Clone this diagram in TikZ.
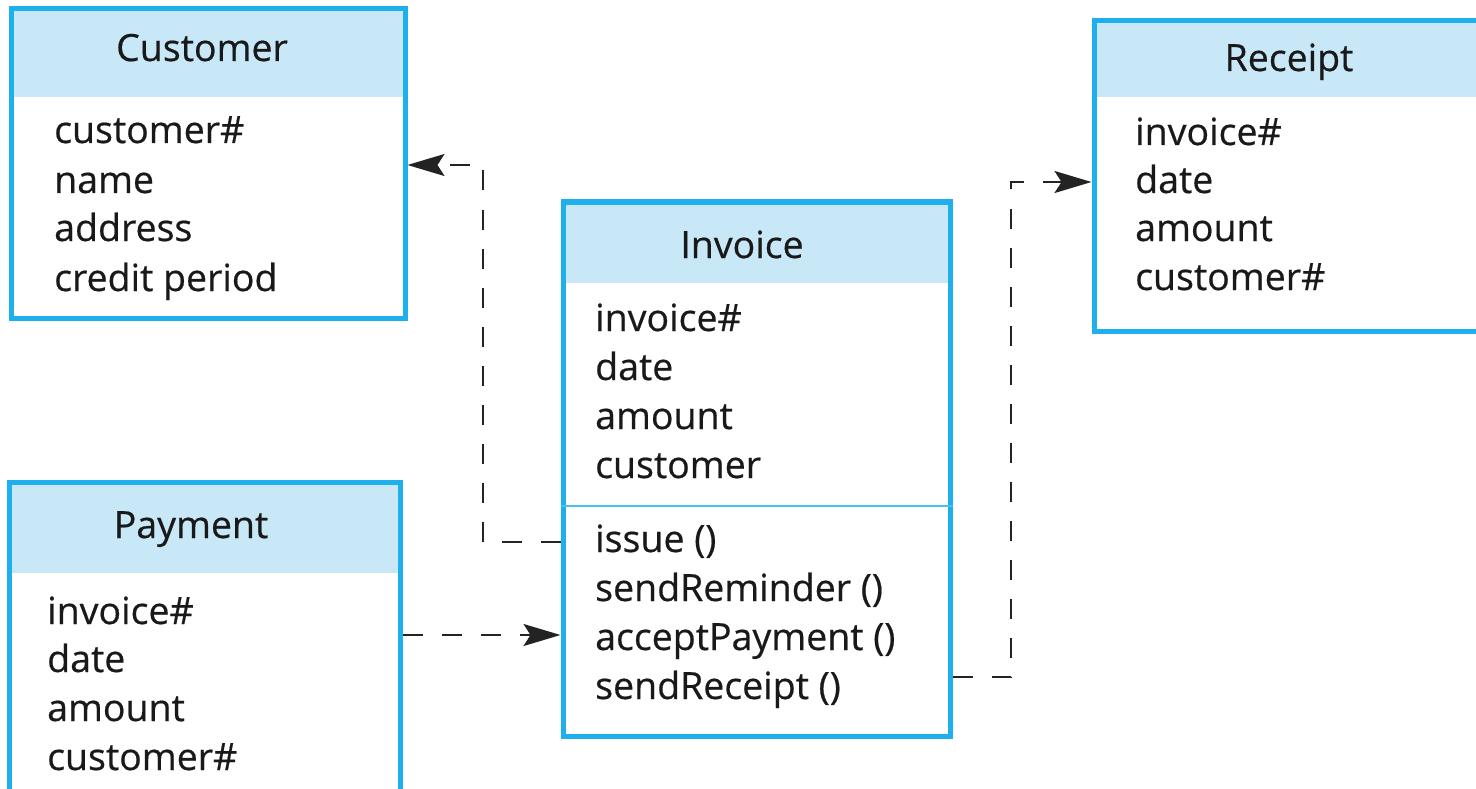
\documentclass[tikz,border=0pt]{standalone}
\usepackage{fontspec}
\setmainfont{Open Sans}[FakeBold=0.5]
\usetikzlibrary{arrows.meta,backgrounds}
\definecolor{umlblue}{RGB}{30,176,236}
\definecolor{headfill}{RGB}{200,232,248}
\definecolor{inktext}{RGB}{25,25,25}
\definecolor{linkink}{RGB}{35,35,35}
\begin{document}
\begin{tikzpicture}[x=1pt,y=-1pt,
  classbox/.style={draw=umlblue, line width=5pt, rectangle, inner sep=0pt},
  titletext/.style={anchor=base, inner sep=0pt, text=inktext, font=\fontsize{37.5}{44}\selectfont},
  attrtext/.style={anchor=base west, inner sep=0pt, text=inktext, font=\fontsize{37.5}{44}\selectfont},
  dep/.style={draw=linkink, line width=2pt, dash pattern=on 20pt off 19pt,
              -{Stealth[length=37pt, width=22pt, inset=7pt]}},
  sepline/.style={draw=umlblue!80, line width=2pt}]
\useasboundingbox (0,0) rectangle (1476,789);
\clip (0,0) rectangle (1476,789);

% boxes
\node[classbox, minimum width=394pt, minimum height=309pt] (customer) at (208,163.5) {};
\node[classbox, minimum width=396pt, minimum height=310pt] (receipt) at (1292,176) {};
\node[classbox, minimum width=387pt, minimum height=534pt] (invoice) at (756.5,469) {};
\node[classbox, minimum width=391pt, minimum height=348pt] (payment) at (204.5,656) {};

\begin{pgfonlayer}{background}
  \fill[headfill] (customer.north west) rectangle (customer.east |- 0,97);
  \fill[headfill] (receipt.north west) rectangle (receipt.east |- 0,97);
  \fill[headfill] (invoice.north west) rectangle (invoice.east |- 0,283);
  \fill[headfill] (payment.north west) rectangle (payment.east |- 0,573);
\end{pgfonlayer}

\draw[sepline] (invoice.west |- 0,506) -- (invoice.east |- 0,506);

% Customer
\node[titletext] (custT) at (202,61) {Customer};
\node[attrtext] (custA1) at (54,143) {customer\#};
\node[attrtext] (custA2) at (54,193) {name};
\node[attrtext] (custA3) at (54,241) {address};
\node[attrtext] (custA4) at (54,291) {credit period};

% Receipt
\node[titletext] (recT) at (1289,71) {Receipt};
\node[attrtext] (recA1) at (1135,145) {invoice\#};
\node[attrtext] (recA2) at (1135,193) {date};
\node[attrtext] (recA3) at (1135,241) {amount};
\node[attrtext] (recA4) at (1135,290) {customer\#};

% Invoice
\node[titletext] (invT) at (742,258) {Invoice};
\node[attrtext] (invA1) at (595,331) {invoice\#};
\node[attrtext] (invA2) at (595,380) {date};
\node[attrtext] (invA3) at (595,429) {amount};
\node[attrtext] (invA4) at (595,478) {customer};
\node[attrtext] (invM1) at (595,552) {issue ()};
\node[attrtext] (invM2) at (595,601) {sendReminder ()};
\node[attrtext] (invM3) at (595,650) {acceptPayment ()};
\node[attrtext] (invM4) at (595,699) {sendReceipt ()};

% Payment
\node[titletext] (payT) at (191,538) {Payment};
\node[attrtext] (payA1) at (47,624) {invoice\#};
\node[attrtext] (payA2) at (47,672) {date};
\node[attrtext] (payA3) at (47,721) {amount};
\node[attrtext] (payA4) at (47,770) {customer\#};

% connectors
\coordinate (bendA) at (483,542);
\coordinate (bendB) at (483,165);
\draw[dep] (invoice.west |- bendA) -- (bendA) -- (bendB) -- (customer.east |- bendB);

\coordinate (payLink) at (0,635);
\draw[dep] (payment.east |- payLink) -- (invoice.west |- payLink);

\coordinate (bendC) at (1011,677);
\coordinate (bendD) at (1011,182);
\draw[dep] (invoice.east |- bendC) -- (bendC) -- (bendD) -- (receipt.west |- bendD);
\end{tikzpicture}
\end{document}
